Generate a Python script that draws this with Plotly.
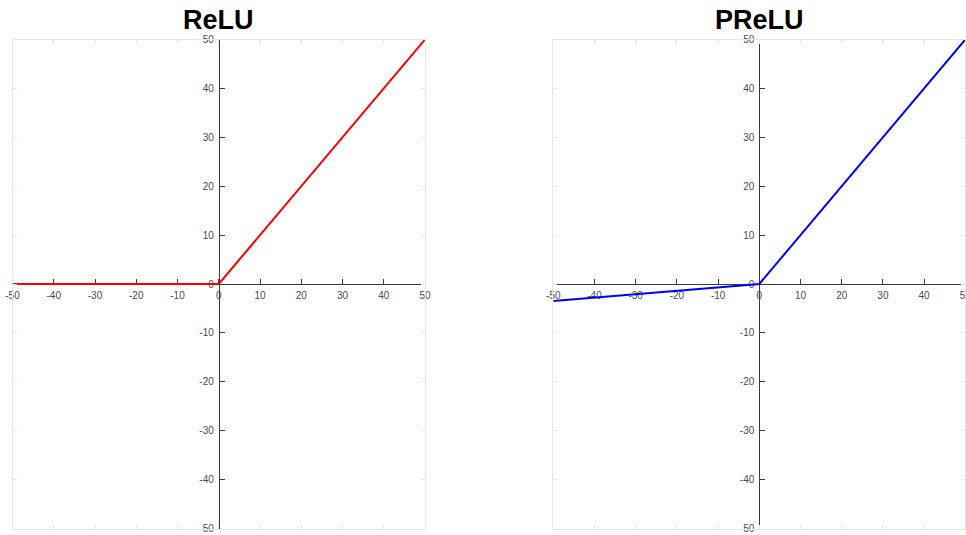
import plotly.graph_objects as go

# Activation functions sampled at the break points
x_vals = [-50, 0, 50]
relu_y = [0, 0, 50]
prelu_y = [-3.5, 0, 50]
tick_vals = [-50, -40, -30, -20, -10, 0, 10, 20, 30, 40, 50]
tick_text = [str(v) for v in tick_vals]
titles = ["ReLU", "PReLU"]

W, H = 966, 535
x_domains = [[12.5 / W, 425 / W], [553.3 / W, 965.3 / W]]
y_domain = [6.5 / H, 1 - 39.5 / H]
y_mid = sum(y_domain) / 2

AX_COLOR = "#3a3a3a"
LBL_COLOR = "#4a4a4a"
BOX_COLOR = "#e6e6e6"
FONT = "Liberation Sans, Arial, sans-serif"

fig = go.Figure()
# empty traces so the frame axes get their own subplots (drawn first, underneath)
for i in (3, 4):
    fig.add_trace(go.Scatter(x=[], y=[], xaxis=f"x{i}", yaxis=f"y{i}",
                             showlegend=False, hoverinfo="skip"))
fig.add_trace(go.Scatter(x=x_vals, y=relu_y, mode="lines",
                         line=dict(color="#ff0000", width=2),
                         xaxis="x", yaxis="y", showlegend=False, cliponaxis=False))
fig.add_trace(go.Scatter(x=x_vals, y=prelu_y, mode="lines",
                         line=dict(color="#0000ff", width=2),
                         xaxis="x2", yaxis="y2", showlegend=False, cliponaxis=False))

layout = dict(width=W, height=H, margin=dict(l=0, r=0, t=0, b=0, autoexpand=False),
              paper_bgcolor="white", plot_bgcolor="rgba(0,0,0,0)",
              font=dict(family=FONT, size=10, color=LBL_COLOR))

for k in range(2):
    xa = "xaxis" if k == 0 else "xaxis2"
    ya = "yaxis" if k == 0 else "yaxis2"
    x_mid = sum(x_domains[k]) / 2
    # centre axes crossing at the origin
    common = dict(range=[-50, 50], anchor="free", showgrid=False, zeroline=False,
                  showline=True, linecolor=AX_COLOR, linewidth=1,
                  ticks="inside", ticklen=5, tickcolor=AX_COLOR,
                  tickvals=tick_vals, ticktext=tick_text, automargin=False,
                  layer="below traces", ticklabeloverflow="allow",
                  tickfont=dict(size=10, color=LBL_COLOR, family=FONT))
    layout[xa] = dict(domain=x_domains[k], position=y_mid,
                      ticklabelstandoff=2, **common)
    layout[ya] = dict(domain=y_domain, position=x_mid,
                      ticklabelstandoff=3, **common)
    # light frame around each plot area
    fi = k + 3
    frame = dict(range=[-50, 50], showgrid=False, zeroline=False,
                 showline=True, mirror="ticks", linecolor=BOX_COLOR,
                 ticks="inside", ticklen=4, tickcolor=BOX_COLOR,
                 tickvals=tick_vals, showticklabels=False, automargin=False)
    layout[f"xaxis{fi}"] = dict(domain=x_domains[k], anchor=f"y{fi}", **frame)
    layout[f"yaxis{fi}"] = dict(domain=y_domain, anchor=f"x{fi}", **frame)

fig.update_layout(**layout)

for k in range(2):
    fig.add_annotation(text=f"<b>{titles[k]}</b>", xref="paper", yref="paper",
                       x=sum(x_domains[k]) / 2, y=1 - 20 / H, xanchor="center",
                       yanchor="middle", showarrow=False,
                       font=dict(size=27, color="#000000", family=FONT))

fig.write_html("out.html")
